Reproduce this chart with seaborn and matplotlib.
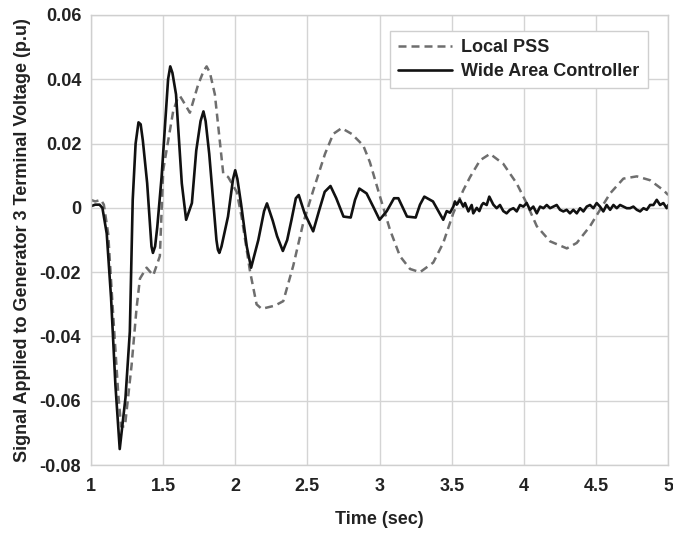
import numpy as np
import pandas as pd
import matplotlib
matplotlib.use("Agg")
import matplotlib.pyplot as plt
import seaborn as sns

# ---- data ----
wac_t = [1.00, 1.03, 1.06, 1.08, 1.11, 1.14, 1.17, 1.20, 1.24, 1.27, 1.29, 1.31, 1.33, 1.345, 1.36, 1.39,
         1.42, 1.43, 1.445, 1.46, 1.49, 1.52, 1.535, 1.55, 1.565, 1.59, 1.63, 1.66, 1.70, 1.73, 1.76, 1.78,
         1.795, 1.82, 1.87, 1.88, 1.89, 1.905,
         1.95, 1.985, 2.00, 2.015, 2.04, 2.08, 2.11, 2.16, 2.20, 2.22, 2.26, 2.29, 2.33, 2.36, 2.39, 2.42, 2.44, 2.48,
         2.54, 2.58, 2.62, 2.66, 2.70, 2.75, 2.80, 2.83, 2.86, 2.91, 2.96, 3.00, 3.05, 3.10,
         3.13, 3.19, 3.25, 3.28, 3.31, 3.37, 3.42, 3.441, 3.465, 3.488, 3.511, 3.522, 3.534,
         3.557, 3.580, 3.592, 3.615, 3.638, 3.649, 3.673, 3.691, 3.708, 3.719, 3.742, 3.760,
         3.777, 3.788, 3.811, 3.834, 3.857, 3.880, 3.903, 3.927, 3.950, 3.973, 3.996, 4.019,
         4.042, 4.065, 4.089, 4.112, 4.135, 4.158, 4.181, 4.204, 4.227, 4.250, 4.273, 4.296,
         4.319, 4.342, 4.366, 4.389, 4.412, 4.435, 4.458, 4.481, 4.504, 4.527, 4.550, 4.573,
         4.597, 4.620, 4.643, 4.666, 4.689, 4.712, 4.735, 4.758, 4.782, 4.805, 4.828, 4.851,
         4.874, 4.897, 4.920, 4.943, 4.966, 4.989, 5.000]
wac_v = [0.0005, 0.001, 0.001, 0.0, -0.008, -0.028, -0.055, -0.075, -0.059, -0.0385, 0.0025, 0.020,
         0.0266, 0.026, 0.021, 0.0077, -0.012, -0.014, -0.012, -0.006, 0.0096, 0.030, 0.040, 0.044, 0.042,
         0.0353, 0.0076, -0.0037, 0.0015, 0.0178, 0.027, 0.030, 0.027, 0.0168, -0.010, -0.013, -0.014, -0.012,
         -0.0027, 0.009, 0.0117, 0.009, 0.0014, -0.012, -0.0186, -0.010, -0.001, 0.0014, -0.004,
         -0.0088, -0.0134, -0.010, -0.0037, 0.003, 0.004, -0.0016,
         -0.0073, -0.001, 0.005, 0.0068, 0.003, -0.0027, -0.003, 0.0025, 0.006, 0.0045, 0.0,
         -0.0037, -0.001, 0.003, 0.003, -0.0027, -0.003, 0.001, 0.0035, 0.002, -0.002,
         -0.0037, -0.001, -0.0015, 0.0004, 0.002, 0.001, 0.0025, 0.0004, 0.0015, -0.0011,
         0.0009, -0.0017, 0.0, -0.001, 0.0009, 0.0015, 0.0009, 0.0035, 0.002, 0.001, -0.0001,
         0.0009, -0.001, -0.0017, -0.0006, -0.0001, -0.0011, 0.0009, 0.0004, 0.0015, -0.0006,
         0.0004, -0.0017, 0.0004, -0.0001, 0.0009, -0.0001, 0.0004, 0.0009, -0.0006, -0.0011,
         -0.0006, -0.0017, -0.0006, -0.0017, -0.0001, -0.0011, 0.0004, 0.0009, -0.0001,
         0.0015, 0.0004, -0.0011, 0.0009, -0.0006, 0.0009, -0.0001, 0.0009, 0.0004, -0.0001,
         -0.0001, 0.0004, -0.0006, -0.0011, -0.0001, -0.0006, 0.0009, 0.0009, 0.0025, 0.0009,
         0.0015, -0.0001, 0.0009]

pss_t = [1.00, 1.03, 1.07, 1.09, 1.12, 1.15, 1.19, 1.21, 1.236, 1.282, 1.317, 1.34, 1.386,
         1.432, 1.478, 1.501, 1.570, 1.60, 1.617, 1.635, 1.686, 1.741, 1.78, 1.802, 1.825, 1.859,
         1.917, 1.951, 2.010,
         2.044, 2.102, 2.148, 2.183, 2.275, 2.333, 2.402, 2.471, 2.541, 2.622, 2.679, 2.737,
         2.807, 2.887, 2.933, 3.003, 3.072, 3.141, 3.211, 3.280, 3.372, 3.441, 3.511, 3.580,
         3.627, 3.696, 3.765, 3.857, 3.950, 4.019, 4.089, 4.181, 4.297, 4.366, 4.458, 4.527,
         4.597, 4.689, 4.782, 4.874, 4.966, 5.000]
pss_v = [0.0025, 0.002, 0.0025, 0.001, -0.008, -0.030, -0.058, -0.068, -0.068, -0.049,
         -0.031, -0.022, -0.0186, -0.021, -0.015, 0.0117, 0.030, 0.0340, 0.0348, 0.0335, 0.0296,
         0.038, 0.0425, 0.044, 0.042, 0.0353, 0.0107, 0.0096, 0.005, -0.0027, -0.0196, -0.030,
         -0.0314, -0.0304, -0.029,
         -0.018, -0.0047, 0.0055, 0.0168, 0.023, 0.0248, 0.023, 0.0194, 0.0142, 0.0035,
         -0.0068, -0.015, -0.019, -0.020, -0.017, -0.0109, -0.0016, 0.0055, 0.0096, 0.0148,
         0.0168, 0.0137, 0.0076, 0.0014, -0.0057, -0.0104, -0.0126, -0.0109, -0.0057, -0.0006,
         0.0045, 0.0091, 0.0098, 0.0086, 0.0055, 0.004]

x_ticks = [1, 1.5, 2, 2.5, 3, 3.5, 4, 4.5, 5]
x_tick_labels = ["1", "1.5", "2", "2.5", "3", "3.5", "4", "4.5", "5"]
y_ticks = [-0.08, -0.06, -0.04, -0.02, 0, 0.02, 0.04, 0.06]
y_tick_labels = ["-0.08", "-0.06", "-0.04", "-0.02", "0", "0.02", "0.04", "0.06"]

# ---- plotting ----
sns.set_theme(style="whitegrid")
plt.rcParams["font.family"] = ["Liberation Sans", "DejaVu Sans"]
plt.rcParams["font.weight"] = "bold"

fig = plt.figure(figsize=(6.73, 5.34), dpi=100)
ax = fig.add_axes([0.135, 0.129, 0.858, 0.843])

df_pss = pd.DataFrame({"t": pss_t, "v": pss_v})
df_wac = pd.DataFrame({"t": wac_t, "v": wac_v})

sns.lineplot(data=df_pss, x="t", y="v", ax=ax, color="#6e6e6e", linewidth=1.8,
             label="Local PSS", estimator=None, sort=False)
ax.lines[-1].set_dashes([3.2, 2.0])
ax.lines[-1].set_solid_joinstyle("round")
sns.lineplot(data=df_wac, x="t", y="v", ax=ax, color="#111111", linewidth=1.9,
             label="Wide Area Controller", estimator=None, sort=False)
ax.lines[-1].set_solid_joinstyle("round")

ax.set_xlim(1, 5)
ax.set_ylim(-0.08, 0.06)
ax.set_xticks(x_ticks)
ax.set_xticklabels(x_tick_labels)
ax.set_yticks(y_ticks)
ax.set_yticklabels(y_tick_labels)
ax.tick_params(axis="x", labelsize=13, colors="#222222", length=0, pad=9)
ax.tick_params(axis="y", labelsize=13, colors="#222222", length=0, pad=7)
for lbl in ax.get_xticklabels() + ax.get_yticklabels():
    lbl.set_fontweight("bold")

ax.grid(True, color="#d4d4d4", linewidth=1.0)
for s in ax.spines.values():
    s.set_color("#cfcfcf")
    s.set_linewidth(1.0)

ax.set_xlabel("Time (sec)", fontsize=13, fontweight="bold", color="#222222", labelpad=12)
ax.set_ylabel("Signal Applied to Generator 3 Terminal Voltage (p.u)", fontsize=13,
              fontweight="bold", color="#222222", labelpad=6)

leg = ax.legend(loc="upper right", bbox_to_anchor=(0.98, 0.985), fontsize=13,
                frameon=True, fancybox=False, edgecolor="#cfcfcf", framealpha=1,
                handlelength=3.0, borderpad=0.45, labelspacing=0.4, handletextpad=0.5)
for t in leg.get_texts():
    t.set_fontweight("bold")
    t.set_color("#222222")
leg.get_frame().set_linewidth(1.0)

fig.savefig("out.png", dpi=100, facecolor="white")
